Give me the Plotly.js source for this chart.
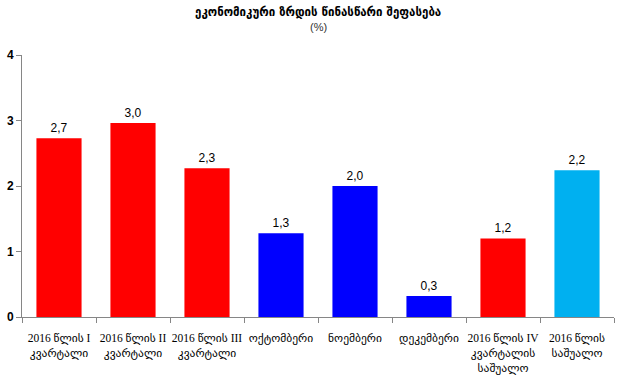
<!DOCTYPE html>
<html>
<head>
<meta charset="utf-8">
<script src="https://cdn.plot.ly/plotly-3.0.1.min.js"></script>
<style>html,body{margin:0;padding:0;background:#fff;}#chart{width:618px;height:378px;}</style>
</head>
<body>
<div id="chart"></div>
<script>
const categories = [
  "2016 წლის I<br>კვარტალი",
  "2016 წლის II<br>კვარტალი",
  "2016 წლის III<br>კვარტალი",
  "ოქტომბერი",
  "ნოემბერი",
  "დეკემბერი",
  "2016 წლის IV<br>კვარტალის<br>საშუალო",
  "2016 წლის<br>საშუალო"
];
const values = [2.73, 2.96, 2.27, 1.28, 2.0, 0.32, 1.2, 2.24];
const labels = ["2,7", "3,0", "2,3", "1,3", "2,0", "0,3", "1,2", "2,2"];
const colors = ["#FF0000", "#FF0000", "#FF0000", "#0000FF", "#0000FF", "#0000FF", "#FF0000", "#00B0F0"];
const yTicks = [0, 1, 2, 3, 4];
const titleText = "ეკონომიკური ზრდის წინასწარი შეფასება";
const subtitleText = "(%)";

Plotly.newPlot("chart", [{
  type: "bar",
  x: categories,
  y: values,
  text: labels,
  textposition: "outside",
  cliponaxis: false,
  textfont: {family: "Liberation Sans, Arial, sans-serif", size: 12, color: "#000"},
  marker: {color: colors},
  width: 0.61,
  hoverinfo: "none"
}], {
  width: 618, height: 378,
  margin: {l: 22, r: 4, t: 55, b: 61},
  paper_bgcolor: "#fff", plot_bgcolor: "#fff",
  showlegend: false,
  annotations: [
    {text: "<b>" + titleText + "</b>", xref: "paper", yref: "paper", x: 0.5, y: 1, yshift: 43,
     xanchor: "center", yanchor: "middle", showarrow: false,
     font: {family: "DejaVu Sans, sans-serif", size: 11.5, color: "#000"}},
    {text: subtitleText, xref: "paper", yref: "paper", x: 0.5, y: 1, yshift: 28,
     xanchor: "center", yanchor: "middle", showarrow: false,
     font: {family: "Liberation Sans, Arial, sans-serif", size: 11, color: "#333"}}
  ],
  xaxis: {
    type: "category",
    tickson: "boundaries",
    ticks: "outside", ticklen: 5, tickcolor: "#868686",
    showline: true, linecolor: "#868686", linewidth: 1,
    showgrid: false, zeroline: false,
    tickangle: 0,
    ticklabelstandoff: 10,
    tickfont: {family: "Liberation Serif, DejaVu Sans, serif", size: 11.5, color: "#000"}
  },
  yaxis: {
    range: [0, 4],
    tickvals: yTicks,
    ticktext: yTicks.map(String),
    ticks: "outside", ticklen: 5, tickcolor: "#868686",
    showline: true, linecolor: "#868686", linewidth: 1,
    showgrid: false, zeroline: false,
    tickfont: {family: "Liberation Sans, Arial, sans-serif", size: 12, color: "#000", weight: "bold"}
  },
  bargap: 0.39
}, {displayModeBar: false, staticPlot: true});
</script>
</body>
</html>
